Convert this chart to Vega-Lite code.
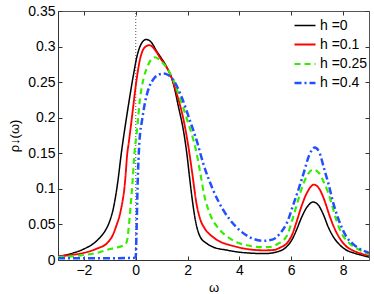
{
  "$schema": "https://vega.github.io/schema/vega-lite/v6.json",
  "width": 311,
  "height": 249,
  "autosize": {"type": "none"},
  "padding": {"left": 58, "top": 11, "right": 5, "bottom": 34},
  "background": "white",
  "config": {
    "font": "Liberation Sans",
    "view": {"stroke": "#555", "strokeWidth": 1},
    "axis": {"grid": false, "domainColor": "#333", "tickColor": "#333", "labelColor": "#000", "labelFontSize": 14, "titleFontSize": 14, "titleFontWeight": "normal", "titleColor": "#000", "tickSize": -4, "labelPadding": 7},
    "legend": {"orient": "none", "legendX": 235, "legendY": 3, "symbolType": "stroke", "symbolSize": 441, "rowPadding": -4, "labelFontSize": 14, "labelOffset": 3, "padding": 0, "labelColor": "#000"}
  },
  "layer": [
    {
      "data": {"values": [{"w": 0}]},
      "mark": {"type": "rule", "color": "#555", "strokeWidth": 1, "strokeDash": [1, 2]},
      "encoding": {
        "x": {"field": "w", "type": "quantitative", "scale": {"domain": [-3, 9], "nice": false, "zero": false},
              "axis": {"orient": "top", "values": [-2, 0, 2, 4, 6, 8], "labels": false, "domain": false, "title": null}},
        "y": {"datum": 0, "type": "quantitative", "scale": {"domain": [0, 0.35], "nice": false},
              "axis": {"orient": "right", "values": [0, 0.05, 0.1, 0.15, 0.2, 0.25, 0.3, 0.35], "labels": false, "domain": false, "title": null}},
        "y2": {"datum": 0.35}
      }
    },
    {
      "data": {"values": [
        {"h":"h =0","w":-3,"rho":0.005},{"h":"h =0","w":-2.5,"rho":0.009},{"h":"h =0","w":-2,"rho":0.0155},{"h":"h =0","w":-1.6,"rho":0.024},{"h":"h =0","w":-1.37,"rho":0.032},{"h":"h =0","w":-1.15,"rho":0.043},{"h":"h =0","w":-1.0,"rho":0.055},{"h":"h =0","w":-0.85,"rho":0.075},{"h":"h =0","w":-0.7,"rho":0.108},{"h":"h =0","w":-0.55,"rho":0.152},{"h":"h =0","w":-0.4,"rho":0.19},{"h":"h =0","w":-0.25,"rho":0.225},{"h":"h =0","w":-0.1,"rho":0.258},{"h":"h =0","w":0.04,"rho":0.285},{"h":"h =0","w":0.2,"rho":0.303},{"h":"h =0","w":0.4,"rho":0.31},{"h":"h =0","w":0.6,"rho":0.306},{"h":"h =0","w":0.8,"rho":0.294},{"h":"h =0","w":1.0,"rho":0.283},{"h":"h =0","w":1.2,"rho":0.271},{"h":"h =0","w":1.45,"rho":0.248},{"h":"h =0","w":1.65,"rho":0.215},{"h":"h =0","w":1.84,"rho":0.182},{"h":"h =0","w":1.97,"rho":0.15},{"h":"h =0","w":2.08,"rho":0.115},{"h":"h =0","w":2.18,"rho":0.085},{"h":"h =0","w":2.3,"rho":0.056},{"h":"h =0","w":2.48,"rho":0.033},{"h":"h =0","w":2.75,"rho":0.023},{"h":"h =0","w":3.0,"rho":0.018},{"h":"h =0","w":3.5,"rho":0.014},{"h":"h =0","w":4.0,"rho":0.011},{"h":"h =0","w":4.5,"rho":0.0095},{"h":"h =0","w":5.0,"rho":0.009},{"h":"h =0","w":5.4,"rho":0.011},{"h":"h =0","w":5.8,"rho":0.018},{"h":"h =0","w":6.05,"rho":0.03},{"h":"h =0","w":6.2,"rho":0.042},{"h":"h =0","w":6.4,"rho":0.06},{"h":"h =0","w":6.6,"rho":0.074},{"h":"h =0","w":6.85,"rho":0.0815},{"h":"h =0","w":7.05,"rho":0.077},{"h":"h =0","w":7.25,"rho":0.063},{"h":"h =0","w":7.42,"rho":0.047},{"h":"h =0","w":7.6,"rho":0.034},{"h":"h =0","w":7.88,"rho":0.021},{"h":"h =0","w":8.1,"rho":0.0145},{"h":"h =0","w":8.4,"rho":0.01},{"h":"h =0","w":8.7,"rho":0.007},{"h":"h =0","w":9,"rho":0.004},
        {"h":"h =0.1","w":-3,"rho":0.005},{"h":"h =0.1","w":-2.5,"rho":0.007},{"h":"h =0.1","w":-2,"rho":0.01},{"h":"h =0.1","w":-1.5,"rho":0.016},{"h":"h =0.1","w":-1.1,"rho":0.024},{"h":"h =0.1","w":-0.9,"rho":0.034},{"h":"h =0.1","w":-0.75,"rho":0.048},{"h":"h =0.1","w":-0.6,"rho":0.066},{"h":"h =0.1","w":-0.5,"rho":0.085},{"h":"h =0.1","w":-0.44,"rho":0.1},{"h":"h =0.1","w":-0.39,"rho":0.12},{"h":"h =0.1","w":-0.34,"rho":0.145},{"h":"h =0.1","w":-0.27,"rho":0.165},{"h":"h =0.1","w":-0.2,"rho":0.185},{"h":"h =0.1","w":-0.1,"rho":0.215},{"h":"h =0.1","w":0.0,"rho":0.245},{"h":"h =0.1","w":0.17,"rho":0.283},{"h":"h =0.1","w":0.35,"rho":0.299},{"h":"h =0.1","w":0.53,"rho":0.302},{"h":"h =0.1","w":0.75,"rho":0.295},{"h":"h =0.1","w":0.94,"rho":0.284},{"h":"h =0.1","w":1.15,"rho":0.273},{"h":"h =0.1","w":1.32,"rho":0.262},{"h":"h =0.1","w":1.58,"rho":0.234},{"h":"h =0.1","w":1.9,"rho":0.187},{"h":"h =0.1","w":2.05,"rho":0.155},{"h":"h =0.1","w":2.18,"rho":0.122},{"h":"h =0.1","w":2.35,"rho":0.078},{"h":"h =0.1","w":2.5,"rho":0.056},{"h":"h =0.1","w":2.65,"rho":0.045},{"h":"h =0.1","w":2.99,"rho":0.032},{"h":"h =0.1","w":3.3,"rho":0.025},{"h":"h =0.1","w":3.63,"rho":0.021},{"h":"h =0.1","w":4.2,"rho":0.016},{"h":"h =0.1","w":4.92,"rho":0.0136},{"h":"h =0.1","w":5.3,"rho":0.014},{"h":"h =0.1","w":5.6,"rho":0.018},{"h":"h =0.1","w":5.83,"rho":0.0235},{"h":"h =0.1","w":6.05,"rho":0.037},{"h":"h =0.1","w":6.2,"rho":0.053},{"h":"h =0.1","w":6.4,"rho":0.076},{"h":"h =0.1","w":6.6,"rho":0.094},{"h":"h =0.1","w":6.88,"rho":0.106},{"h":"h =0.1","w":7.1,"rho":0.099},{"h":"h =0.1","w":7.3,"rho":0.082},{"h":"h =0.1","w":7.48,"rho":0.062},{"h":"h =0.1","w":7.65,"rho":0.046},{"h":"h =0.1","w":7.88,"rho":0.03},{"h":"h =0.1","w":8.1,"rho":0.02},{"h":"h =0.1","w":8.4,"rho":0.013},{"h":"h =0.1","w":8.7,"rho":0.009},{"h":"h =0.1","w":9,"rho":0.006},
        {"h":"h =0.25","w":-3,"rho":0.004},{"h":"h =0.25","w":-2.5,"rho":0.005},{"h":"h =0.25","w":-2,"rho":0.007},{"h":"h =0.25","w":-1.5,"rho":0.01},{"h":"h =0.25","w":-1.1,"rho":0.0145},{"h":"h =0.25","w":-0.8,"rho":0.017},{"h":"h =0.25","w":-0.5,"rho":0.02},{"h":"h =0.25","w":-0.38,"rho":0.023},{"h":"h =0.25","w":-0.32,"rho":0.03},{"h":"h =0.25","w":-0.26,"rho":0.05},{"h":"h =0.25","w":-0.2,"rho":0.075},{"h":"h =0.25","w":-0.12,"rho":0.112},{"h":"h =0.25","w":-0.05,"rho":0.15},{"h":"h =0.25","w":0.04,"rho":0.18},{"h":"h =0.25","w":0.17,"rho":0.228},{"h":"h =0.25","w":0.3,"rho":0.255},{"h":"h =0.25","w":0.43,"rho":0.27},{"h":"h =0.25","w":0.6,"rho":0.282},{"h":"h =0.25","w":0.75,"rho":0.285},{"h":"h =0.25","w":0.95,"rho":0.28},{"h":"h =0.25","w":1.2,"rho":0.27},{"h":"h =0.25","w":1.45,"rho":0.253},{"h":"h =0.25","w":1.65,"rho":0.233},{"h":"h =0.25","w":1.84,"rho":0.213},{"h":"h =0.25","w":2.0,"rho":0.195},{"h":"h =0.25","w":2.2,"rho":0.172},{"h":"h =0.25","w":2.35,"rho":0.15},{"h":"h =0.25","w":2.5,"rho":0.12},{"h":"h =0.25","w":2.65,"rho":0.09},{"h":"h =0.25","w":2.86,"rho":0.065},{"h":"h =0.25","w":3.25,"rho":0.042},{"h":"h =0.25","w":3.6,"rho":0.031},{"h":"h =0.25","w":3.89,"rho":0.025},{"h":"h =0.25","w":4.4,"rho":0.02},{"h":"h =0.25","w":4.79,"rho":0.018},{"h":"h =0.25","w":5.12,"rho":0.018},{"h":"h =0.25","w":5.5,"rho":0.023},{"h":"h =0.25","w":5.83,"rho":0.034},{"h":"h =0.25","w":6.07,"rho":0.06},{"h":"h =0.25","w":6.2,"rho":0.076},{"h":"h =0.25","w":6.4,"rho":0.1},{"h":"h =0.25","w":6.6,"rho":0.118},{"h":"h =0.25","w":6.84,"rho":0.127},{"h":"h =0.25","w":7.05,"rho":0.123},{"h":"h =0.25","w":7.25,"rho":0.11},{"h":"h =0.25","w":7.4,"rho":0.097},{"h":"h =0.25","w":7.55,"rho":0.08},{"h":"h =0.25","w":7.75,"rho":0.055},{"h":"h =0.25","w":7.95,"rho":0.037},{"h":"h =0.25","w":8.2,"rho":0.025},{"h":"h =0.25","w":8.4,"rho":0.019},{"h":"h =0.25","w":8.7,"rho":0.013},{"h":"h =0.25","w":9,"rho":0.008},
        {"h":"h =0.4","w":-3,"rho":0.0025},{"h":"h =0.4","w":-2,"rho":0.0025},{"h":"h =0.4","w":-1,"rho":0.0025},{"h":"h =0.4","w":-0.05,"rho":0.003},{"h":"h =0.4","w":0.0,"rho":0.005},{"h":"h =0.4","w":0.03,"rho":0.04},{"h":"h =0.4","w":0.07,"rho":0.103},{"h":"h =0.4","w":0.14,"rho":0.165},{"h":"h =0.4","w":0.25,"rho":0.198},{"h":"h =0.4","w":0.35,"rho":0.22},{"h":"h =0.4","w":0.55,"rho":0.246},{"h":"h =0.4","w":0.68,"rho":0.254},{"h":"h =0.4","w":0.85,"rho":0.26},{"h":"h =0.4","w":1.07,"rho":0.262},{"h":"h =0.4","w":1.25,"rho":0.26},{"h":"h =0.4","w":1.45,"rho":0.253},{"h":"h =0.4","w":1.77,"rho":0.229},{"h":"h =0.4","w":2.09,"rho":0.196},{"h":"h =0.4","w":2.35,"rho":0.168},{"h":"h =0.4","w":2.61,"rho":0.135},{"h":"h =0.4","w":2.99,"rho":0.098},{"h":"h =0.4","w":3.38,"rho":0.07},{"h":"h =0.4","w":3.89,"rho":0.046},{"h":"h =0.4","w":4.4,"rho":0.032},{"h":"h =0.4","w":4.92,"rho":0.027},{"h":"h =0.4","w":5.3,"rho":0.029},{"h":"h =0.4","w":5.56,"rho":0.037},{"h":"h =0.4","w":5.83,"rho":0.052},{"h":"h =0.4","w":6.09,"rho":0.079},{"h":"h =0.4","w":6.25,"rho":0.096},{"h":"h =0.4","w":6.47,"rho":0.121},{"h":"h =0.4","w":6.7,"rho":0.148},{"h":"h =0.4","w":6.91,"rho":0.158},{"h":"h =0.4","w":7.1,"rho":0.15},{"h":"h =0.4","w":7.24,"rho":0.132},{"h":"h =0.4","w":7.45,"rho":0.105},{"h":"h =0.4","w":7.63,"rho":0.079},{"h":"h =0.4","w":7.9,"rho":0.05},{"h":"h =0.4","w":8.14,"rho":0.032},{"h":"h =0.4","w":8.4,"rho":0.022},{"h":"h =0.4","w":8.65,"rho":0.0155},{"h":"h =0.4","w":9,"rho":0.01}
      ]},
      "mark": {"type": "line", "interpolate": "monotone", "clip": true},
      "encoding": {
        "x": {"field": "w", "type": "quantitative", "scale": {"domain": [-3, 9], "nice": false, "zero": false},
              "axis": {"orient": "bottom", "values": [-2, 0, 2, 4, 6, 8], "title": "ω", "titlePadding": 4, "titleFontSize": 13}},
        "y": {"field": "rho", "type": "quantitative", "scale": {"domain": [0, 0.35], "nice": false},
              "axis": {"orient": "left", "values": [0, 0.05, 0.1, 0.15, 0.2, 0.25, 0.3, 0.35], "format": ".2~f", "title": "ρ↓(ω)", "titlePadding": 6, "titleFontSize": 13}},
        "color": {"field": "h", "type": "nominal", "title": null,
                  "scale": {"domain": ["h =0", "h =0.1", "h =0.25", "h =0.4"], "range": ["#000000", "#ff0000", "#33ee00", "#2050ff"]}},
        "strokeDash": {"field": "h", "type": "nominal", "title": null,
                  "scale": {"domain": ["h =0", "h =0.1", "h =0.25", "h =0.4"], "range": [[1, 0], [1, 0], [6, 4], [7, 3, 2, 3]]}},
        "strokeWidth": {"field": "h", "type": "nominal", "title": null,
                  "scale": {"domain": ["h =0", "h =0.1", "h =0.25", "h =0.4"], "range": [1.5, 2.5, 2.3, 2.3]}}
      }
    }
  ],
  "resolve": {"axis": {"x": "independent", "y": "independent"}}
}
